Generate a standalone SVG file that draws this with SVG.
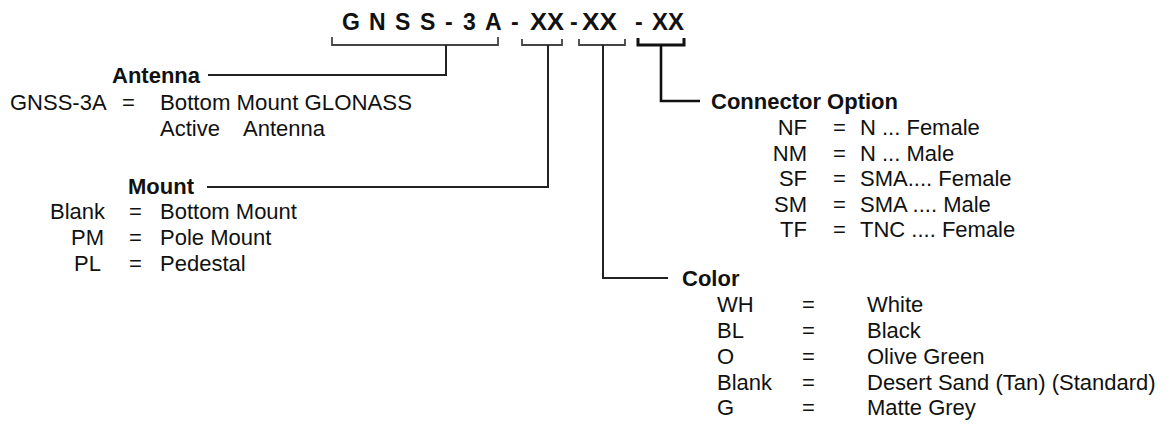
<svg xmlns="http://www.w3.org/2000/svg" width="1172" height="426" viewBox="0 0 1172 426">
<style>
text{font-family:"Liberation Sans",Arial,sans-serif;fill:#111;font-size:22px}
.b{font-weight:bold}
.t{font-weight:bold;font-size:23px}
.ln{fill:none;stroke:#222;stroke-width:2}
.br{fill:none;stroke:#444;stroke-width:1.8}
.bk{fill:none;stroke:#111;stroke-width:3}
</style>
<rect width="1172" height="426" fill="#fff"/>
<g id="title">
<text class="t" x="342 369 395 420 445 463 485 511" y="30">GNSS-3A-</text>
<text class="t" x="530" y="30" textLength="34" lengthAdjust="spacingAndGlyphs">XX</text>
<text class="t" x="570" y="30">-</text>
<text class="t" x="582" y="30" textLength="35" lengthAdjust="spacingAndGlyphs">XX</text>
<text class="t" x="635" y="30">-</text>
<text class="t" x="652" y="30" textLength="32" lengthAdjust="spacingAndGlyphs">XX</text>
</g>
<g id="connectors">
<path class="br" d="M332,37V45H498V37"/>
<path class="br" d="M522,39V45H562V39"/>
<path class="br" d="M579,39V45H625V39"/>
<path class="bk" d="M638,38V45H684V38"/>
<path class="ln" d="M446,45V75H208"/>
<path class="ln" d="M548,45V187H207"/>
<path class="ln" d="M603,45V278H668"/>
<path class="bk" d="M661,45V101H700" style="stroke-width:2.6"/>
</g>
<g id="antenna">
<text class="b" x="112" y="83">Antenna</text>
<text x="10" y="110">GNSS-3A</text>
<text x="122" y="110">=</text>
<text x="160" y="110" textLength="252" lengthAdjust="spacingAndGlyphs">Bottom Mount GLONASS</text>
<text x="160" y="136">Active</text>
<text x="243" y="136">Antenna</text>
</g>
<g id="mount">
<text class="b" x="128" y="194">Mount</text>
<text x="50" y="219">Blank</text>
<text x="71" y="245">PM</text>
<text x="74" y="271">PL</text>
<text x="129" y="219">=</text>
<text x="129" y="245">=</text>
<text x="129" y="271">=</text>
<text x="160" y="219">Bottom Mount</text>
<text x="160" y="245">Pole Mount</text>
<text x="160" y="271">Pedestal</text>
</g>
<g id="connector-option">
<text class="b" x="711" y="109">Connector Option</text>
<g text-anchor="end">
<text x="807" y="135">NF</text>
<text x="807" y="161">NM</text>
<text x="807" y="186">SF</text>
<text x="807" y="212">SM</text>
<text x="807" y="237">TF</text>
</g>
<text x="833" y="135">=</text>
<text x="833" y="161">=</text>
<text x="833" y="186">=</text>
<text x="833" y="212">=</text>
<text x="833" y="237">=</text>
<text x="860" y="135">N ... Female</text>
<text x="860" y="161">N ... Male</text>
<text x="860" y="186">SMA.... Female</text>
<text x="860" y="212">SMA .... Male</text>
<text x="860" y="237">TNC .... Female</text>
</g>
<g id="color">
<text class="b" x="682" y="286">Color</text>
<text x="717" y="312">WH</text>
<text x="717" y="338">BL</text>
<text x="717" y="364">O</text>
<text x="717" y="390">Blank</text>
<text x="717" y="415">G</text>
<text x="802" y="312">=</text>
<text x="802" y="338">=</text>
<text x="802" y="364">=</text>
<text x="802" y="390">=</text>
<text x="802" y="415">=</text>
<text x="867" y="312">White</text>
<text x="867" y="338">Black</text>
<text x="867" y="364">Olive Green</text>
<text x="867" y="390">Desert Sand (Tan) (Standard)</text>
<text x="867" y="415">Matte Grey</text>
</g>
</svg>
